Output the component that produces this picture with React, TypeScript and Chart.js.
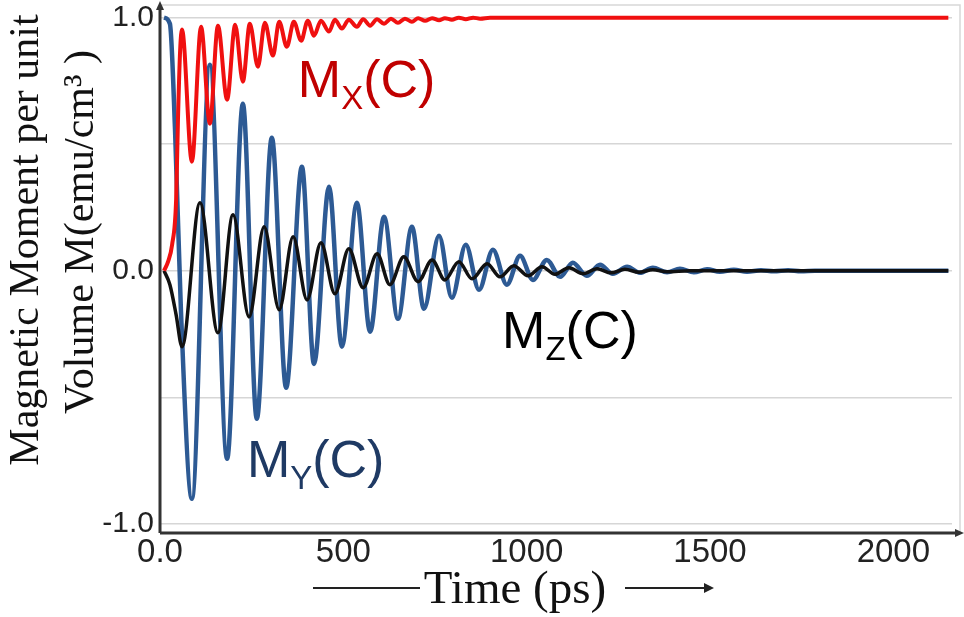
import React, { useEffect, useRef } from "react";
import { Chart, registerables } from "chart.js";

Chart.register(...registerables);

// ---- data (time in ps, magnetic moment per unit volume) ----
const timeTicks = [0, 500, 1000, 1500, 2000];
const momentTicks = [-1, -0.5, 0, 0.5, 1];
const momentTickLabels = ["-1.0", "", "0.0", "", "1.0"];

const myTime = [11, 27, 41, 57, 87, 136, 183, 226, 264, 305, 344, 387, 420, 461, 496, 537, 573, 611, 649, 687, 720, 761, 796, 834, 870, 908, 946, 982, 1017, 1055, 1091, 1126, 1164, 1200, 1235, 1274, 1309, 1344, 1383, 1418, 1456, 1492, 1527, 1565, 1601, 1639, 1674, 1713, 1748, 1786, 2150];
const myMoment = [1.0, 0.976, 0.557, -0.154, -0.901, 0.814, -0.743, 0.66, -0.585, 0.526, -0.462, 0.411, -0.368, 0.332, -0.3, 0.269, -0.241, 0.213, -0.19, 0.174, -0.15, 0.138, -0.107, 0.103, -0.075, 0.083, -0.055, 0.059, -0.036, 0.043, -0.024, 0.032, -0.02, 0.024, -0.012, 0.016, -0.008, 0.012, -0.006, 0.008, -0.006, 0.006, -0.004, 0.004, -0.004, 0.002, -0.002, 0.002, -0.002, 0, 0];

const mxTime = [11, 22, 33, 44, 49, 55, 60, 87, 112, 136, 158, 183, 205, 226, 245, 267, 286, 308, 325, 346, 365, 385, 403, 420, 439, 461, 477, 496, 515, 537, 554, 573, 592, 611, 630, 649, 668, 687, 704, 723, 742, 761, 777, 796, 815, 834, 854, 873, 900, 2150];
const mxMoment = [0, 0.036, 0.103, 0.281, 0.597, 0.874, 0.953, 0.431, 0.964, 0.581, 0.968, 0.676, 0.972, 0.747, 0.976, 0.806, 0.98, 0.85, 0.984, 0.885, 0.984, 0.909, 0.988, 0.929, 0.988, 0.945, 0.992, 0.957, 0.992, 0.964, 0.994, 0.968, 0.994, 0.976, 0.996, 0.98, 0.996, 0.984, 0.998, 0.988, 0.998, 0.99, 0.998, 0.992, 1.0, 0.994, 1.0, 0.996, 1.0, 1.0];

const mzTime = [11, 27, 44, 60, 109, 158, 199, 243, 284, 325, 363, 401, 439, 477, 515, 554, 592, 627, 665, 704, 742, 777, 815, 851, 892, 927, 965, 1004, 1042, 1077, 1115, 1154, 1192, 1230, 1268, 1306, 1344, 1383, 1445, 2150];
const mzMoment = [0, -0.055, -0.174, -0.3, 0.269, -0.245, 0.221, -0.182, 0.174, -0.154, 0.134, -0.115, 0.111, -0.091, 0.087, -0.067, 0.067, -0.055, 0.055, -0.043, 0.043, -0.036, 0.036, -0.032, 0.028, -0.024, 0.02, -0.02, 0.016, -0.014, 0.012, -0.012, 0.008, -0.008, 0.006, -0.006, 0.004, -0.004, 0, 0];

const seriesNames = [
  { main: "M", sub: "X", tail: "(C)", t: 376, m: 0.687, color: "#c00000" },
  { main: "M", sub: "Y", tail: "(C)", t: 237, m: -0.815, color: "#1f3a64" },
  { main: "M", sub: "Z", tail: "(C)", t: 933, m: -0.305, color: "#000000" },
];

const yTitleLines = ["Magnetic Moment per unit", "Volume M(emu/cm\u00B3 )"];
const xTitle = "Time (ps)";

const toPoints = (xs: number[], ys: number[]) => xs.map((x, i) => ({ x, y: ys[i] }));

const decorPlugin = {
  id: "decor",
  beforeDatasetsDraw(chart: any) {
    const { ctx, chartArea } = chart;
    ctx.save();
    ctx.strokeStyle = "#d8d8d8";
    ctx.lineWidth = 1.5;
    ctx.beginPath();
    ctx.moveTo(chartArea.left, chartArea.top);
    ctx.lineTo(chartArea.right + 8, chartArea.top);
    ctx.lineTo(chartArea.right + 8, chartArea.bottom);
    ctx.stroke();
    ctx.restore();
  },
  afterDraw(chart: any) {
    const { ctx, chartArea } = chart;
    const xs = chart.scales.x;
    const ys = chart.scales.y;
    ctx.save();
    // axes with arrows
    ctx.strokeStyle = "#333333";
    ctx.fillStyle = "#333333";
    ctx.lineWidth = 3;
    ctx.beginPath();
    ctx.moveTo(chartArea.left, chartArea.bottom);
    ctx.lineTo(chartArea.left, chartArea.top + 2);
    ctx.moveTo(chartArea.left, chartArea.bottom);
    ctx.lineTo(chartArea.right + 6, chartArea.bottom);
    ctx.stroke();
    ctx.beginPath();
    ctx.moveTo(chartArea.left, chartArea.top - 4);
    ctx.lineTo(chartArea.left - 4, chartArea.top + 5);
    ctx.lineTo(chartArea.left + 4, chartArea.top + 5);
    ctx.closePath();
    ctx.fill();
    ctx.beginPath();
    ctx.moveTo(chartArea.right + 12, chartArea.bottom);
    ctx.lineTo(chartArea.right + 3, chartArea.bottom - 4);
    ctx.lineTo(chartArea.right + 3, chartArea.bottom + 4);
    ctx.closePath();
    ctx.fill();

    // series names
    for (const s of seriesNames) {
      const px = xs.getPixelForValue(s.t);
      const py = ys.getPixelForValue(s.m);
      ctx.fillStyle = s.color;
      ctx.textAlign = "left";
      ctx.textBaseline = "alphabetic";
      ctx.font = "52px 'Liberation Sans', Arial, sans-serif";
      ctx.fillText(s.main, px, py);
      const w1 = ctx.measureText(s.main).width;
      ctx.font = "33px 'Liberation Sans', Arial, sans-serif";
      ctx.fillText(s.sub, px + w1, py + 12);
      const w2 = ctx.measureText(s.sub).width;
      ctx.font = "52px 'Liberation Sans', Arial, sans-serif";
      ctx.fillText(s.tail, px + w1 + w2, py);
    }

    // y title (rotated)
    ctx.fillStyle = "#111111";
    ctx.font = "42px 'Liberation Serif', 'Times New Roman', serif";
    ctx.textAlign = "center";
    ctx.textBaseline = "alphabetic";
    const yPos = [
      { x: 38, y: 240 },
      { x: 93, y: 232 },
    ];
    yTitleLines.forEach((line, i) => {
      ctx.save();
      ctx.translate(yPos[i].x, yPos[i].y);
      ctx.rotate(-Math.PI / 2);
      ctx.fillText(line, 0, 0);
      ctx.restore();
    });

    // x title with arrows
    ctx.font = "47px 'Liberation Serif', 'Times New Roman', serif";
    ctx.fillText(xTitle, 515, 603);
    ctx.strokeStyle = "#222222";
    ctx.lineWidth = 2;
    ctx.beginPath();
    ctx.moveTo(313, 588);
    ctx.lineTo(420, 588);
    ctx.moveTo(625, 588);
    ctx.lineTo(706, 588);
    ctx.stroke();
    ctx.fillStyle = "#222222";
    ctx.beginPath();
    ctx.moveTo(714, 588);
    ctx.lineTo(704, 583);
    ctx.lineTo(704, 593);
    ctx.closePath();
    ctx.fill();
    ctx.restore();
  },
};

export default function App() {
  const canvasRef = useRef<HTMLCanvasElement | null>(null);

  useEffect(() => {
    if (!canvasRef.current) return;
    const chart = new Chart(canvasRef.current, {
      type: "line",
      data: {
        datasets: [
          {
            label: "Mx(C)",
            data: toPoints(mxTime, mxMoment),
            borderColor: "#f01010",
            borderWidth: 4,
            order: 1,
          },
          {
            label: "Mz(C)",
            data: toPoints(mzTime, mzMoment),
            borderColor: "#111111",
            borderWidth: 3.5,
            order: 2,
          },
          {
            label: "My(C)",
            data: toPoints(myTime, myMoment),
            borderColor: "#2d5a94",
            borderWidth: 4.5,
            order: 3,
          },
        ],
      },
      options: {
        animation: false,
        responsive: false,
        events: [],
        layout: { padding: { left: 0, right: 12, top: 5, bottom: 0 } },
        elements: {
          point: { radius: 0 },
          line: { cubicInterpolationMode: "monotone", fill: false },
        },
        plugins: { legend: { display: false }, tooltip: { enabled: false } },
        scales: {
          x: {
            type: "linear",
            min: 0,
            max: 2160,
            grid: { display: false, drawTicks: false },
            border: { display: false },
            afterBuildTicks: (scale: any) => {
              scale.ticks = timeTicks.map((v) => ({ value: v }));
            },
            afterFit: (scale: any) => {
              scale.height = 84;
              scale.paddingLeft = 0;
              scale.paddingRight = 0;
            },
            ticks: {
              padding: 0,
              maxRotation: 0,
              autoSkip: false,
              color: "#222222",
              font: { family: "'Liberation Sans', Arial, sans-serif", size: 33 },
              callback: (v: any) => (v === 0 ? "0.0" : String(v)),
            },
          },
          y: {
            type: "linear",
            min: -1.036,
            max: 1.05,
            grid: { color: "#d6d6d6", lineWidth: 1.5, drawTicks: false },
            border: { display: false },
            afterBuildTicks: (scale: any) => {
              scale.ticks = momentTicks.map((v) => ({ value: v }));
            },
            afterFit: (scale: any) => {
              scale.width = 160;
              scale.paddingTop = 0;
              scale.paddingBottom = 0;
            },
            ticks: {
              padding: 6,
              autoSkip: false,
              color: "#222222",
              font: { family: "'Liberation Sans', Arial, sans-serif", size: 30 },
              callback: (v: any) => {
                const i = momentTicks.indexOf(v);
                return i >= 0 ? momentTickLabels[i] : "";
              },
            },
          },
        },
      },
      plugins: [decorPlugin],
    });
    return () => chart.destroy();
  }, []);

  return (
    <div style={{ position: "fixed", left: 0, top: 0, width: 964, height: 617, background: "#ffffff" }}>
      <canvas ref={canvasRef} width={964} height={617} style={{ display: "block" }} />
    </div>
  );
}
